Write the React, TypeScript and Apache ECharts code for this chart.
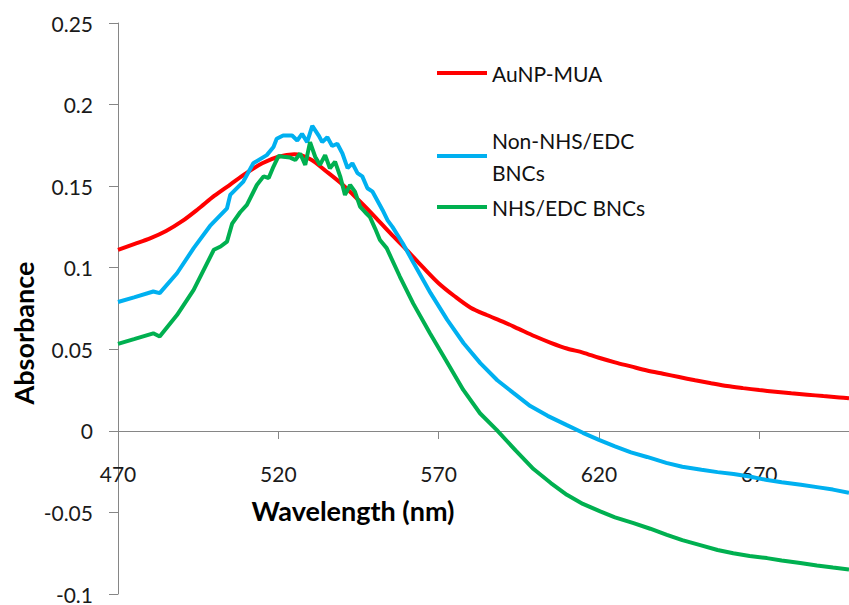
import React, { useEffect, useRef } from 'react';
import * as echarts from 'echarts';

const seriesNames = ['AuNP-MUA', 'Non-NHS/EDC BNCs', 'NHS/EDC BNCs'];
const seriesColors = ['#ff0000', '#00b0f0', '#00b050'];

const aunpWavelength = [470, 475, 480, 485, 490, 495, 500, 505, 510, 515, 520, 525, 530, 535, 540, 545, 550, 555, 560, 565, 570, 575, 580, 585, 590, 595, 600, 605, 610, 615, 620, 625, 630, 635, 640, 645, 650, 655, 660, 665, 670, 675, 680, 685, 690, 695, 698];
const aunpAbsorbance = [0.111, 0.1145, 0.118, 0.1225, 0.1285, 0.136, 0.144, 0.151, 0.158, 0.164, 0.168, 0.1695, 0.1665, 0.159, 0.151, 0.1415, 0.1315, 0.121, 0.111, 0.1005, 0.0905, 0.0825, 0.0755, 0.071, 0.067, 0.0625, 0.058, 0.054, 0.0505, 0.048, 0.0448, 0.042, 0.0395, 0.037, 0.035, 0.033, 0.031, 0.0292, 0.0275, 0.0262, 0.025, 0.024, 0.023, 0.0222, 0.0213, 0.0205, 0.02];

const nonNhsWavelength = [470, 475, 481, 483, 488.4, 493.6, 498.7, 504, 505, 509.1, 512.2, 516.4, 518.5, 519.5, 521.5, 524.3, 525.9, 527.4, 529, 530.6, 532.6, 533.7, 535.3, 536.8, 538.4, 540, 541.6, 543.1, 544.7, 546.2, 547.8, 549.4, 552.5, 554.1, 555.6, 558.8, 561.9, 567.5, 572.7, 577.8, 583, 588.3, 593.3, 598.6, 604, 610, 615, 620, 625, 630, 635, 641, 646, 652, 657, 662, 667, 672, 677, 683, 688, 693, 698];
const nonNhsAbsorbance = [0.079, 0.0818, 0.0854, 0.0844, 0.0966, 0.112, 0.1256, 0.1364, 0.1446, 0.1528, 0.164, 0.169, 0.174, 0.179, 0.181, 0.181, 0.178, 0.182, 0.177, 0.187, 0.181, 0.177, 0.18, 0.1746, 0.176, 0.17, 0.161, 0.164, 0.158, 0.156, 0.1487, 0.1466, 0.1354, 0.129, 0.125, 0.115, 0.104, 0.0844, 0.068, 0.0537, 0.0415, 0.031, 0.0233, 0.0152, 0.0092, 0.0035, -0.0012, -0.0055, -0.0095, -0.0132, -0.016, -0.0196, -0.022, -0.0239, -0.0253, -0.0265, -0.028, -0.03, -0.0315, -0.033, -0.0345, -0.036, -0.038];

const nhsWavelength = [470, 475, 481, 483, 488.4, 493.6, 499.9, 502, 504, 505.6, 508.1, 510.2, 513.3, 515.4, 517, 518.5, 520.1, 521.5, 523.7, 525.3, 526.8, 528.4, 529.9, 531.5, 533, 534.6, 536.1, 537.7, 539.3, 540.8, 542.4, 543.9, 545.5, 547.1, 548.6, 550.2, 551.7, 553.8, 557.9, 562.1, 567.3, 572.5, 577.7, 582.9, 588.1, 594, 599.6, 605, 610, 615, 620.4, 625, 630.8, 636, 641.2, 646, 651.6, 657, 661.9, 667, 672.4, 677, 682.8, 688, 693, 698];
const nhsAbsorbance = [0.0533, 0.0562, 0.0598, 0.0578, 0.071, 0.0864, 0.111, 0.113, 0.116, 0.127, 0.134, 0.1385, 0.1507, 0.156, 0.155, 0.162, 0.1685, 0.168, 0.1675, 0.166, 0.17, 0.163, 0.177, 0.168, 0.163, 0.169, 0.161, 0.165, 0.156, 0.1446, 0.1507, 0.1466, 0.1374, 0.134, 0.131, 0.124, 0.117, 0.112, 0.0946, 0.078, 0.0598, 0.0425, 0.0251, 0.0108, 0.0006, -0.012, -0.0234, -0.032, -0.0392, -0.0448, -0.0494, -0.053, -0.0566, -0.06, -0.0637, -0.067, -0.07, -0.073, -0.075, -0.0767, -0.078, -0.0795, -0.081, -0.0825, -0.0838, -0.085];

const xTitle = 'Wavelength (nm)';
const yTitle = 'Absorbance';

const FONT = 'Lato, "Open Sans", sans-serif';

export default function App() {
  const ref = useRef<HTMLDivElement>(null);
  useEffect(() => {
    document.body.style.margin = '0';
    const chart = echarts.init(ref.current as HTMLDivElement, null, { renderer: 'svg' });
    const zip = (w: number[], a: number[]) => w.map((x, i) => [x, a[i]]);
    const legendText = { fontSize: 21, color: '#111', fontFamily: FONT, lineHeight: 24 };
    const legendCommon = {
      orient: 'vertical',
      padding: 0,
      itemWidth: 50,
      itemHeight: 4,
      itemGap: 0,
      selectedMode: false,
    };
    const lineSeries = (i: number, data: number[][], smooth: number) => ({
      name: seriesNames[i],
      type: 'line',
      data,
      showSymbol: false,
      symbol: 'none',
      smooth,
      lineStyle: { width: 4, color: seriesColors[i] },
      itemStyle: { color: seriesColors[i] },
    });
    chart.setOption({
      animation: false,
      backgroundColor: '#ffffff',
      textStyle: { fontFamily: FONT },
      grid: { left: 118, right: 0, top: 23, bottom: 11, containLabel: false, outerBoundsMode: 'none' },
      xAxis: {
        type: 'value',
        position: 'bottom',
        offset: -163,
        min: 470,
        max: 698,
        interval: 50,
        axisLine: { onZero: false, lineStyle: { color: '#868686', width: 1 } },
        axisTick: { show: true, length: 8, lineStyle: { color: '#868686' } },
        axisLabel: { margin: 32, fontSize: 21, color: '#1a1a1a', fontFamily: FONT, showMaxLabel: false },
        splitLine: { show: false },
      },
      yAxis: {
        type: 'value',
        min: -0.1,
        max: 0.25,
        interval: 0.05,
        axisLine: { show: true, onZero: false, lineStyle: { color: '#868686', width: 1 } },
        axisTick: { show: true, length: 9, lineStyle: { color: '#868686' } },
        axisLabel: {
          margin: 25,
          fontSize: 21,
          color: '#1a1a1a',
          fontFamily: FONT,
          formatter: (v: number) => String(parseFloat(v.toFixed(2))),
        },
        splitLine: { show: false },
      },
      legend: [
        { ...legendCommon, data: [{ name: seriesNames[0], icon: 'rect' }], left: 437, top: 61, textStyle: legendText },
        {
          ...legendCommon,
          data: [{ name: seriesNames[1], icon: 'rect' }],
          left: 437,
          top: 108,
          formatter: () => 'Non-NHS/EDC\nBNCs',
          textStyle: { ...legendText, lineHeight: 32, padding: [32, 0, 0, 0] },
        },
        { ...legendCommon, data: [{ name: seriesNames[2], icon: 'rect' }], left: 437, top: 195, textStyle: legendText },
      ],
      graphic: [
        {
          type: 'text',
          x: 23,
          y: 333,
          rotation: Math.PI / 2,
          style: {
            text: yTitle,
            font: `bold 27px ${FONT}`,
            align: 'center',
            verticalAlign: 'middle',
            fill: '#000',
          },
        },
        {
          type: 'text',
          x: 353,
          y: 510,
          style: {
            text: xTitle,
            font: `bold 27px ${FONT}`,
            align: 'center',
            verticalAlign: 'middle',
            fill: '#000',
          },
        },
      ],
      series: [
        lineSeries(0, zip(aunpWavelength, aunpAbsorbance), 0.3),
        lineSeries(1, zip(nonNhsWavelength, nonNhsAbsorbance), 0),
        lineSeries(2, zip(nhsWavelength, nhsAbsorbance), 0),
      ],
    });
    return () => chart.dispose();
  }, []);
  return (
    <div
      ref={ref}
      style={{ position: 'absolute', left: 0, top: 0, width: 849, height: 605, background: '#fff' }}
    />
  );
}
